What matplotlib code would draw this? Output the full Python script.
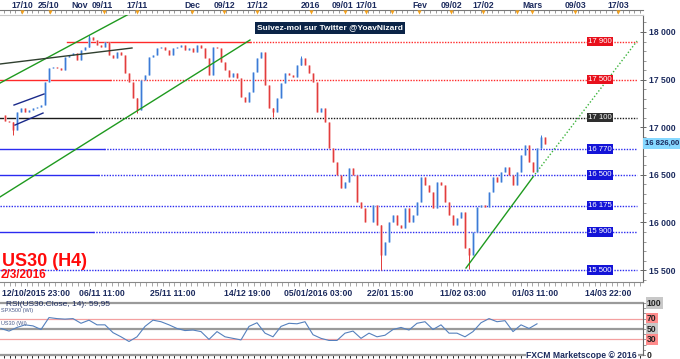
import matplotlib

matplotlib.use("Agg")
import matplotlib.pyplot as plt
import numpy as np

W, H = 680, 359

# US30 H4 closes, one per plotted bar
closes = [17128, 17066, 17055, 16971, 17160, 17202, 17160, 17181, 17202, 17212,
          17233, 17475, 17622, 17632, 17622, 17601, 17737, 17758, 17780, 17706,
          17811, 17842, 17948, 17916, 17863, 17842, 17895, 17758, 17727, 17790,
          17758, 17570, 17475, 17307, 17181, 17496, 17548, 17737, 17758, 17832,
          17842, 17811, 17758, 17832, 17842, 17863, 17811, 17832, 17790, 17863,
          17832, 17727, 17548, 17842, 17832, 17685, 17601, 17527, 17570, 17517,
          17317, 17265, 17370, 17580, 17727, 17790, 17443, 17202, 17160, 17307,
          17460, 17570, 17548, 17527, 17653, 17727, 17653, 17570, 17475, 17160,
          17202, 17055, 16782, 16635, 16498, 16362, 16425, 16572, 16498, 16215,
          16152, 16005, 16005, 16183, 15973, 15658, 15795, 16005, 16078, 15973,
          15942, 16152, 16005, 16078, 16215, 16477, 16393, 16320, 16152, 16425,
          16393, 16215, 16078, 15973, 16047, 16110, 15732, 15658, 15900, 16162,
          16183, 16162, 16320, 16477, 16425, 16530, 16582, 16498, 16393, 16530,
          16708, 16813, 16635, 16530, 16782, 16897, 16826]
last_price = "16 826,00"

# notable wick extremes (bar index, price)
wick_bars = [3, 22, 34, 68, 75, 95, 117, 135]
wick_prices = [16919, 17968, 17150, 17107, 17748, 15500, 15515, 16918]

# RSI(14), one value every 2 bars
rsi = [51, 46, 53, 58, 56, 49, 72, 70, 69, 70, 61, 67, 58, 58, 43, 35, 26, 35,
       55, 67, 64, 58, 51, 47, 48, 45, 30, 45, 35, 32, 29, 55, 62, 42, 35, 55,
       61, 60, 64, 39, 32, 28, 28, 42, 46, 32, 42, 35, 38, 49, 53, 48, 61, 64,
       49, 58, 42, 42, 35, 45, 62, 70, 64, 66, 45, 58, 51, 59.95]

# support / resistance levels
levels = [17900, 17500, 17100, 16770, 16500, 16175, 15900, 15500]
level_labels = ["17 900", "17 500", "17 100", "16 770", "16 500", "16 175",
                "15 900", "15 500"]
level_kind = ["r", "r", "k", "b", "b", "b", "b", "b"]

# trendlines: (bar0, price0, bar1, price1)
trend_green = [(-0.25, 17464, 31.5, 18178), (-0.25, 16268, 62.25, 17916)]
trend_dark = (-0.25, 17664, 32.75, 17832)
trend_navy = [(3.25, 17233, 10.75, 17349), (3.5, 17023, 10.5, 17149)]
support = (116.25, 15522, 133.0, 16478, 159.0, 17905)

top_labels = ["17/10", "25/10", "Nov", "09/11", "17/11", "Dec", "09/12", "17/12",
              "2016", "09/01", "17/01", "Fev", "09/02", "17/02", "Mars", "09/03",
              "17/03"]
bottom_labels = ["12/10/2015 23:00", "06/11 11:00", "25/11 11:00", "14/12 19:00",
                 "05/01/2016 03:00", "22/01 15:00", "11/02 03:00", "01/03 11:00",
                 "14/03 22:00"]

# layout (pixel positions)
TOP_PX = [22, 49, 80, 102, 137, 192, 224, 257, 310, 342, 366, 420, 451, 483,
          532, 575, 618]
MARK_PX = [22, 50, 104, 137, 192, 224, 257, 311, 345, 366, 392, 419, 451, 483,
           517, 532, 575, 618]
BOT_PX = [30, 102, 173, 247, 318, 390, 463, 535, 608]
SOLID_PX = [(67, 250), (0, 110), (0, 100), (0, 104), (0, 98), None, (0, 93), None]

NAVY = "#1c2b5e"
COL = {"r": "#ff2a2a", "k": "#1a1a1a", "b": "#2b2bf0"}
BOX = {"r": "#e8101c", "k": "#2e2e2e", "b": "#1414d8"}
FONT = "Liberation Sans"


def fx(px):
    return px / W


def fy(py):
    return 1 - py / H


def bar(px):
    return (px - 1) / 4


fig = plt.figure(figsize=(W / 100, H / 100), dpi=100, facecolor="white")

# ---- main price panel
ax = fig.add_axes([0, fy(282), fx(643), (282 - 15) / H])
ax.set_xlim(bar(0), bar(643))
ax.set_ylim(15375, 18178.5)

c = np.array(closes, float)
o = np.r_[c[0], c[:-1]]
x = np.arange(len(c))
up = c >= o
lo, hi = np.minimum(o, c), np.maximum(o, c)
for mask, light, dark in ((up, "#a9c9f0", "#3a78d6"), (~up, "#f6b0b0", "#e23a3a")):
    ax.vlines(x[mask], lo[mask], hi[mask], color=light, lw=2.0, zorder=3)
    ax.vlines(x[mask], lo[mask], hi[mask], color=dark, lw=0.7, zorder=4)
for i, p in zip(wick_bars, wick_prices):
    ax.vlines(i, min(lo[i], p), max(hi[i], p),
              color="#3a78d6" if up[i] else "#e23a3a", lw=0.7, zorder=4)

# levels + right-side tags
for lv, lab, kind, solid in zip(levels, level_labels, level_kind, SOLID_PX):
    col = COL[kind]
    start = bar(0)
    if solid is not None:
        ax.plot([bar(solid[0]), bar(solid[1])], [lv, lv], color=col, lw=1.0, zorder=2)
        start = bar(solid[1])
    ax.plot([start, bar(637)], [lv, lv], color=col, lw=1.0, ls=(0, (1, 1)), zorder=2)
    ax.text(bar(600), lv, lab, ha="center", va="center", fontsize=5.6,
            family=FONT, color="white", zorder=6,
            bbox=dict(boxstyle="square,pad=0.15", fc=BOX[kind], ec="none"))

for x0, y0, x1, y1 in trend_green:
    ax.plot([x0, x1], [y0, y1], color="#1f9a1f", lw=1.0, zorder=5)
ax.plot(trend_dark[::2], trend_dark[1::2], color="#2f3f2f", lw=1.0, zorder=5)
for x0, y0, x1, y1 in trend_navy:
    ax.plot([x0, x1], [y0, y1], color="#1a2a8a", lw=1.0, zorder=5)
ax.plot(support[0:4:2], support[1:4:2], color="#1f9a1f", lw=1.0, zorder=5)
ax.plot(support[2::2], support[3::2], color="#3cb43c", lw=1.0, ls=(0, (1, 1.5)), zorder=5)

ax.yaxis.tick_right()
ax.set_yticks(np.arange(15500, 18001, 500))
ax.set_yticklabels([f"{v // 1000} {v % 1000:03d}" for v in range(15500, 18001, 500)],
                   family=FONT, weight="bold")
ax.set_yticks(np.arange(15400, 18101, 100), minor=True)
ax.tick_params(axis="y", which="major", direction="inout", length=5, width=0.7,
               pad=1.5, colors="#666", labelcolor=NAVY, labelsize=6.2)
ax.tick_params(axis="y", which="minor", direction="out", length=2, width=0.6,
               colors="#888")

ax.set_xticks([bar(p) for p in BOT_PX])
ax.set_xticklabels([])
ax.set_xticks(np.arange(bar(3), bar(643), 4.5), minor=True)
ax.tick_params(axis="x", which="major", direction="out", length=6, width=0.7, colors="#888")
ax.tick_params(axis="x", which="minor", direction="out", length=3, width=0.6, colors="#999")
ax.spines["left"].set_visible(False)
ax.spines["top"].set_color("#c8c8c8")
ax.spines["bottom"].set_color("#888")
ax.spines["right"].set_color("#666")
for s in ax.spines.values():
    s.set_linewidth(0.8)

# current price tag
fig.text(fx(645), fy(143.5), last_price, ha="left", va="center", fontsize=5.6,
         family=FONT, weight="bold", color=NAVY,
         bbox=dict(boxstyle="square,pad=0.2", fc="#86d8ff", ec="none"))

# ---- top date ruler
tax = fig.add_axes([0, fy(15), fx(643), 5 / H], sharex=ax)
tax.set_ylim(0, 1)
tax.patch.set_alpha(0)
for k in ("left", "right", "bottom"):
    tax.spines[k].set_visible(False)
tax.spines["top"].set_color("#777")
tax.spines["top"].set_linewidth(0.8)
tax.xaxis.tick_top()
tax.set_xticks(np.arange(bar(4), bar(643), 1.42), minor=True)
tax.set_xticks([])
tax.tick_params(axis="x", which="minor", direction="in", length=2.5, width=0.6, colors="#888")
tax.set_yticks([])
tax.scatter([bar(p) for p in MARK_PX], [0.55] * len(MARK_PX), marker="v", s=9,
            color="#f5a21c", lw=0, clip_on=False, zorder=5)
for p, lab in zip(TOP_PX, top_labels):
    fig.text(fx(p), fy(5.5), lab, ha="center", va="center", fontsize=6.2,
             family=FONT, weight="bold", color=NAVY)

# bottom date labels
for i, (p, lab) in enumerate(zip(BOT_PX, bottom_labels)):
    fig.text(fx(2 if i == 0 else p), fy(294), lab, ha="left" if i == 0 else "center",
             va="center", fontsize=6.2, family=FONT, weight="bold", color=NAVY)

# title and twitter banner
fig.text(fx(2), fy(266), "US30 (H4)", ha="left", va="baseline", fontsize=13,
         family=FONT, weight="bold", color="#ff0a0a")
fig.text(fx(1), fy(278), "2/3/2016", ha="left", va="baseline", fontsize=8.5,
         family=FONT, weight="bold", color="#ff0a0a")
fig.text(fx(330), fy(28), "Suivez-moi sur Twitter @YoavNizard", ha="center",
         va="center", fontsize=6.0, family=FONT, weight="bold", color="white",
         bbox=dict(boxstyle="square,pad=0.25", fc="#0b2447", ec="none"))

# ---- RSI panel
rax = fig.add_axes([0, fy(355), fx(643), 52 / H], sharex=ax)
rax.set_ylim(0, 100)
rx = np.arange(len(rsi)) * 2
rax.plot(rx, rsi, color="#5580bd", lw=0.8, zorder=4)
for lv, col, lw in ((100, "#9a9a9a", 1.6), (50, "#9a9a9a", 1.6), (0, "#9a9a9a", 1.6),
                    (70, "#f4a0a0", 0.9), (30, "#f4a0a0", 0.9)):
    rax.axhline(lv, color=col, lw=lw, clip_on=False, zorder=2)
for k in ("left", "top", "bottom"):
    rax.spines[k].set_visible(False)
rax.spines["right"].set_color("#666")
rax.spines["right"].set_linewidth(0.8)
rax.set_xticks([])
rax.set_yticks([])
rax.yaxis.tick_right()
rax.set_yticks(np.arange(0, 101, 10), minor=True)
rax.tick_params(axis="y", which="minor", direction="out", length=2, width=0.6, colors="#888")
for lv, bg in ((100, "#c8c8c8"), (70, "#ff8c8c"), (50, "#c8c8c8"), (30, "#ff8c8c"), (0, "white")):
    rax.text(1.006, lv, str(lv), transform=rax.get_yaxis_transform(), ha="left",
             va="center", fontsize=6.2, family=FONT, weight="bold", color="#222",
             bbox=dict(boxstyle="square,pad=0.12", fc=bg, ec="none"), clip_on=False)

fig.text(fx(6), fy(304), "RSI(US30.Close, 14): 59,95", ha="left", va="center",
         fontsize=6.0, family=FONT, color=NAVY)
fig.text(fx(1), fy(310.5), "SPX500 (WI)", ha="left", va="center", fontsize=4.0,
         family=FONT, color="#4a5a8a")
fig.text(fx(1), fy(323), "US30 (WI)", ha="left", va="center", fontsize=4.0,
         family=FONT, color="#4a5a8a")
fig.text(fx(637), fy(355), "FXCM Marketscope © 2016", ha="right", va="center",
         fontsize=6.2, family=FONT, weight="bold", color=NAVY,
         bbox=dict(boxstyle="square,pad=0.1", fc="white", ec="none"), zorder=10)

fig.savefig("out.png", dpi=100, facecolor="white")
